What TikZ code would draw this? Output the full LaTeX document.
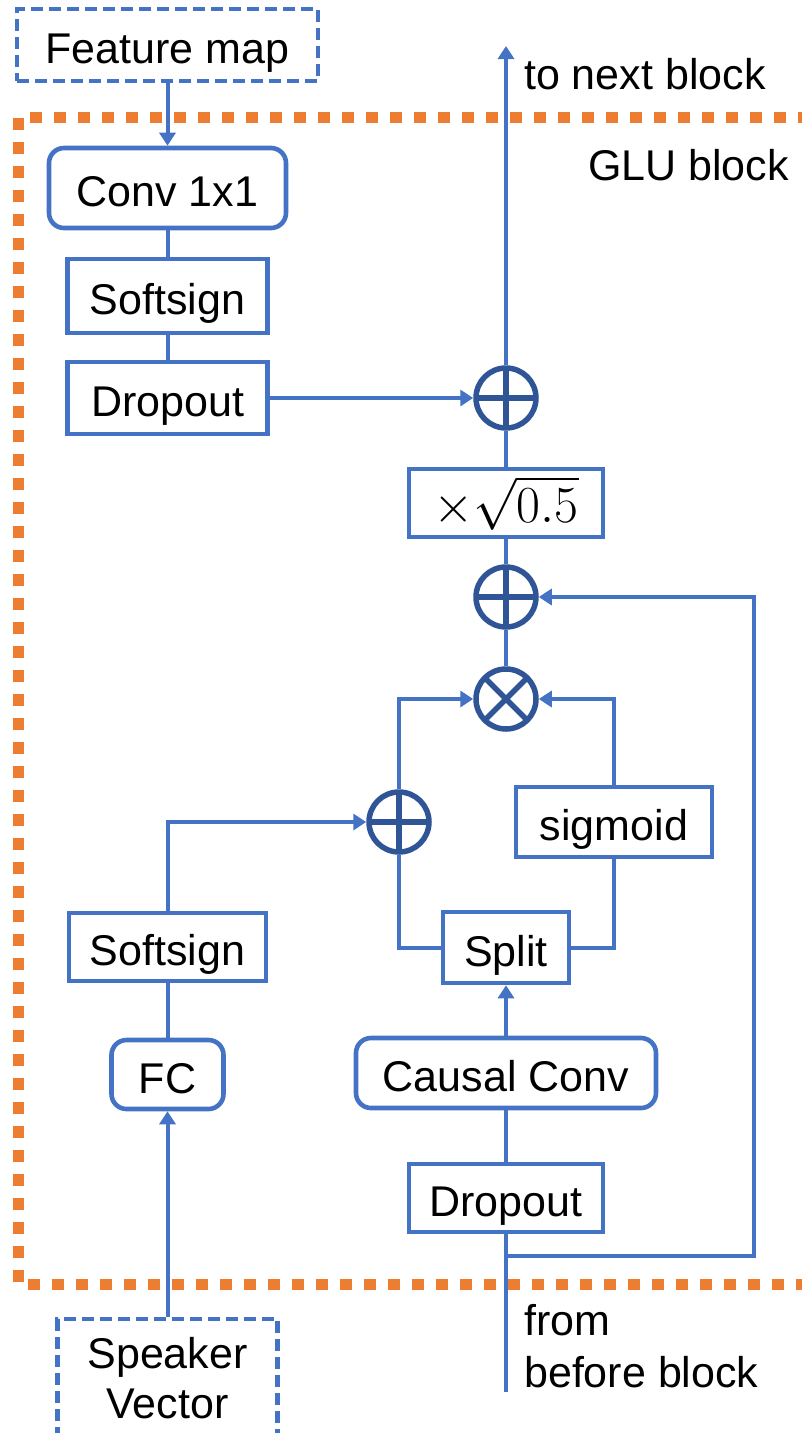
\RequirePackage{fix-cm}
\documentclass[tikz,border=0pt]{standalone}
\usepackage[no-math]{fontspec}
\setmainfont{Liberation Sans}
\usetikzlibrary{arrows.meta}
\definecolor{blk}{HTML}{4472C4}
\definecolor{ring}{HTML}{2F5597}
\definecolor{glu}{HTML}{ED7D31}
\tikzset{
  box/.style={draw=blk, line width=4.6pt, fill=white, inner sep=0pt, text=black},
  tbox/.style={box, text height=37pt, text depth=0pt},
  rbox/.style={tbox, rounded corners=15pt},
  dbox/.style={box, dash pattern=on 12pt off 6pt},
  wire/.style={draw=blk, line width=4pt},
  arr/.style={wire, -{Triangle[length=13pt,width=16pt]}},
  opc/.style={circle, draw=ring, line width=5.5pt, minimum size=60pt, inner sep=0pt, fill=white},
  plusop/.style={opc, path picture={
      \draw[ring, line width=5.5pt]
        (path picture bounding box.west) -- (path picture bounding box.east)
        (path picture bounding box.north) -- (path picture bounding box.south);}},
  timesop/.style={opc, path picture={
      \draw[ring, line width=5.5pt]
        (path picture bounding box.north west) -- (path picture bounding box.south east)
        (path picture bounding box.north east) -- (path picture bounding box.south west);}},
  lbl/.style={anchor=base west, inner sep=0pt, text=black},
}
\begin{document}
\begin{tikzpicture}[x=1pt, y=-1pt, font=\fontsize{43}{50}\selectfont]
\useasboundingbox (0,0) rectangle (802,1433);

% input branch: feature map
\node[dbox, text height=37pt, text depth=0pt, minimum width=301pt, minimum height=72pt] (fm) at (167.5,45) {Feature map};
\node[rbox, minimum width=237pt, minimum height=80pt] (conv1) at (167.5,188) {Conv 1x1};
\node[tbox, minimum width=200pt, minimum height=74pt] (soft1) at (167.5,296) {Softsign};
\node[tbox, minimum width=200pt, minimum height=72pt] (drop1) at (167.5,398) {Dropout};

% main path
\node[plusop] (p1) at (506,398) {};
\node[box, minimum width=194pt, minimum height=68pt] (scale) at (506,503)
  {\fontsize{52}{58}\selectfont$\times\sqrt{0.5}$};
\node[plusop] (p2) at (506,597) {};
\node[timesop] (mul) at (506,699) {};
\node[plusop] (p3) at (399,822) {};
\node[tbox, minimum width=196pt, minimum height=70pt] (sig) at (614,822) {sigmoid};
\node[tbox, minimum width=126pt, minimum height=71pt] (split) at (506,947.5) {Split};
\node[rbox, minimum width=300pt, minimum height=70pt] (cconv) at (506,1073) {Causal Conv};
\node[tbox, minimum width=194pt, minimum height=68pt] (drop2) at (506,1198) {Dropout};

% speaker branch
\node[tbox, minimum width=197pt, minimum height=68pt] (soft2) at (167.5,947) {Softsign};
\node[rbox, minimum width=112pt, minimum height=69pt] (fc) at (167.5,1074.5) {FC};
\node[dbox, minimum width=220pt, minimum height=118pt, align=center] (spk) at (167.5,1378) {Speaker\\Vector};

% labels
\node[lbl] (tonext) at (524,89) {to next block};
\node[lbl] (glu) at (588,180) {GLU block};
\node[lbl] (from1) at (524,1335) {from};
\node[lbl] (from2) at (524,1387) {before block};

% free ends
\coordinate (out) at (506,46);
\coordinate (in) at (506,1392);
\coordinate (br) at (506,1256);
\coordinate (rt) at (754,1256);

% connectors
\draw[arr] (fm.south) -- (conv1.north);
\draw[wire] (conv1.south) -- (soft1.north);
\draw[wire] (soft1.south) -- (drop1.north);
\draw[arr] (drop1.east) -- (p1.west);
\draw[arr] (p1.north) -- (out);
\draw[wire] (scale.north) -- (p1.south);
\draw[wire] (p2.north) -- (scale.south);
\draw[wire] (mul.north) -- (p2.south);
\draw[arr] (p3.north) |- (mul.west);
\draw[arr] (sig.north) |- (mul.east);
\draw[wire] (split.west) -| (p3.south);
\draw[wire] (split.east) -| (sig.south);
\draw[arr] (cconv.north) -- (split.south);
\draw[wire] (drop2.north) -- (cconv.south);
\draw[wire] (in) -- (drop2.south);
\draw[arr] (br) -- (rt) |- (p2.east);
\draw[arr] (spk.north) -- (fc.south);
\draw[wire] (fc.north) -- (soft2.south);
\draw[arr] (soft2.north) |- (p3.west);

% GLU block frame
\draw[glu, line width=11pt, dash pattern=on 12pt off 12pt] (18.5,117.5) rectangle (807,1284.5);
\end{tikzpicture}
\end{document}
